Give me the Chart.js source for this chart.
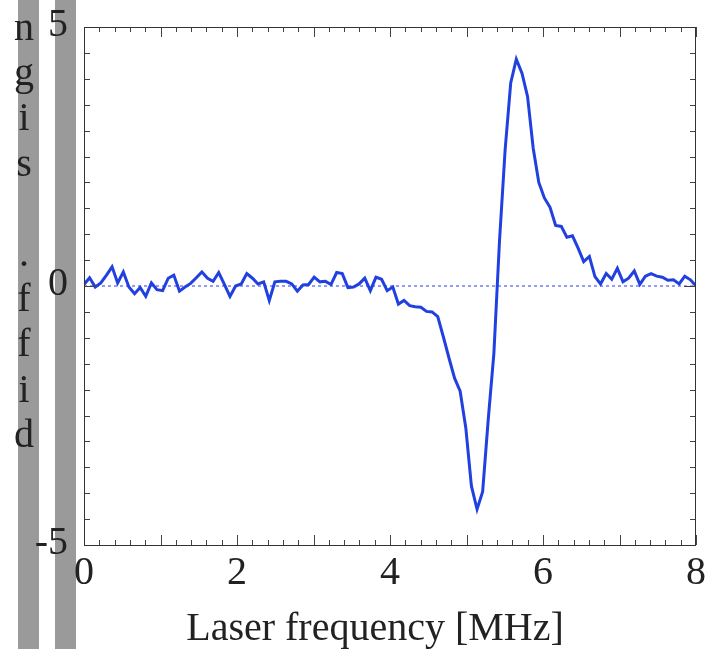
<!DOCTYPE html>
<html>
<head>
<meta charset="utf-8">
<title>diff. sign vs laser frequency</title>
<script src="https://cdn.jsdelivr.net/npm/chart.js@4.4.1/dist/chart.umd.min.js"></script>
<style>
    html, body { margin: 0; padding: 0; background: #fff; }
    #wrap { position: relative; width: 706px; height: 649px; overflow: hidden; }
    .bar { position: absolute; top: 0; width: 21px; height: 649px; background: #9a9a9a; }
    #bar1 { left: 18px; }
    #bar2 { left: 55px; }
    #chart { position: absolute; left: 0; top: 0; }
    #ylabel {
        position: absolute; left: 4px; top: 4px; width: 40px;
        text-align: center; color: #222;
        font: 40px/45.2px "Liberation Serif", serif;
    }
</style>
</head>
<body>
<div id="wrap">
    <div class="bar" id="bar1"></div>
    <div class="bar" id="bar2"></div>
    <canvas id="chart" width="706" height="649"></canvas>
    <div id="ylabel">n<br>g<br>i<br>s<br>&nbsp;<br>.<br>f<br>f<br>i<br>d</div>
</div>
<script>
// sample frequencies [MHz]
const freqMHz = [
    0, 0.073, 0.147, 0.220, 0.294, 0.367, 0.440, 0.514, 0.587, 0.661,
    0.734, 0.807, 0.881, 0.954, 1.028, 1.101, 1.174, 1.248, 1.321, 1.394,
    1.468, 1.541, 1.615, 1.688, 1.761, 1.835, 1.908, 1.982, 2.055, 2.128,
    2.202, 2.275, 2.349, 2.422, 2.495, 2.569, 2.642, 2.716, 2.789, 2.862,
    2.936, 3.009, 3.083, 3.156, 3.229, 3.303, 3.376, 3.450, 3.523, 3.596,
    3.670, 3.743, 3.817, 3.890, 3.963, 4.037, 4.110, 4.183, 4.257, 4.330,
    4.404, 4.477, 4.550, 4.624, 4.697, 4.771, 4.844, 4.917, 4.991, 5.064,
    5.138, 5.211, 5.284, 5.358, 5.431, 5.505, 5.578, 5.651, 5.725, 5.798,
    5.872, 5.945, 6.018, 6.092, 6.165, 6.239, 6.312, 6.385, 6.459, 6.532,
    6.606, 6.679, 6.752, 6.826, 6.899, 6.972, 7.046, 7.119, 7.193, 7.266,
    7.339, 7.413, 7.486, 7.560, 7.633, 7.706, 7.780, 7.853, 7.927, 8.000
];

// difference signal
const diffSignal = [
    0.03, 0.16, -0.02, 0.06, 0.21, 0.37, 0.06, 0.27, -0.02, -0.15,
    -0.03, -0.20, 0.06, -0.07, -0.09, 0.15, 0.21, -0.10, -0.02, 0.05,
    0.16, 0.27, 0.15, 0.09, 0.26, 0.03, -0.20, 0.00, 0.04, 0.24,
    0.15, 0.04, 0.08, -0.28, 0.08, 0.09, 0.09, 0.04, -0.10, 0.02,
    0.03, 0.17, 0.08, 0.09, 0.03, 0.26, 0.24, -0.03, -0.02, 0.04,
    0.15, -0.09, 0.17, 0.13, -0.09, -0.02, -0.35, -0.28, -0.38, -0.40,
    -0.41, -0.49, -0.50, -0.59, -0.98, -1.39, -1.78, -2.03, -2.74, -3.86,
    -4.31, -3.97, -2.58, -1.30, 0.86, 2.63, 3.92, 4.38, 4.11, 3.66,
    2.66, 2.00, 1.70, 1.52, 1.17, 1.15, 0.94, 0.97, 0.73, 0.47,
    0.57, 0.18, 0.04, 0.24, 0.13, 0.34, 0.08, 0.15, 0.29, 0.03,
    0.19, 0.24, 0.19, 0.17, 0.11, 0.12, 0.04, 0.19, 0.12, 0.00
];

const zeroLine = [0, 0];
const zeroLineX = [0, 8];

const xRange = [0, 8];
const yRange = [-5, 5];
const xTickLabels = [0, 2, 4, 6, 8];
const yTickLabels = [-5, 0, 5];
const xTitle = 'Laser frequency [MHz]';

const serif = '"Liberation Serif", "Times New Roman", serif';

// frame + inward tick marks on all four sides, plus the x title
const frameTicks = {
    id: 'frameTicks',
    afterDraw(chart) {
        const { ctx, chartArea: a, scales: { x, y } } = chart;
        ctx.save();
        ctx.lineWidth = 1;
        ctx.strokeStyle = '#444';
        ctx.beginPath();
        for (let k = -10; k <= 10; k++) {
            const py = Math.round(y.getPixelForValue(k / 2)) + 0.5;
            const len = k === 0 ? 12 : 6;
            ctx.moveTo(a.left, py); ctx.lineTo(a.left + len, py);
            ctx.moveTo(a.right, py); ctx.lineTo(a.right - len, py);
        }
        for (let k = 0; k <= 40; k++) {
            const px = Math.round(x.getPixelForValue(k / 5)) + 0.5;
            const len = k % 5 === 0 ? 10 : 5;
            ctx.moveTo(px, a.bottom); ctx.lineTo(px, a.bottom - len);
            ctx.moveTo(px, a.top); ctx.lineTo(px, a.top + len);
        }
        ctx.stroke();

        ctx.strokeStyle = '#333';
        ctx.strokeRect(a.left + 0.5, a.top + 0.5, a.right - a.left - 1, a.bottom - a.top);

        ctx.fillStyle = '#222';
        ctx.font = '40px ' + serif;
        ctx.textAlign = 'center';
        ctx.textBaseline = 'alphabetic';
        ctx.fillText(xTitle, 375, 640);
        ctx.restore();
    }
};

new Chart(document.getElementById('chart'), {
    type: 'line',
    data: {
        datasets: [
            {
                data: freqMHz.map((f, i) => ({ x: f, y: diffSignal[i] })),
                borderColor: '#2140e0',
                borderWidth: 3,
                pointRadius: 0,
                tension: 0,
                order: 1
            },
            {
                data: zeroLineX.map((f, i) => ({ x: f, y: zeroLine[i] })),
                borderColor: '#2a3af0',
                borderWidth: 1,
                borderDash: [3, 3],
                pointRadius: 0,
                order: 2
            }
        ]
    },
    options: {
        responsive: false,
        animation: false,
        devicePixelRatio: 1,
        layout: { padding: { top: 27, right: 10, left: 0, bottom: 0 } },
        plugins: {
            legend: { display: false },
            tooltip: { enabled: false }
        },
        scales: {
            x: {
                type: 'linear',
                min: xRange[0],
                max: xRange[1],
                grid: { display: false, drawTicks: false },
                border: { display: false },
                afterFit: (s) => {
                    s.height = 104;
                    s.paddingLeft = 0;
                    s.paddingRight = 0;
                },
                afterBuildTicks: (s) => { s.ticks = xTickLabels.map(v => ({ value: v })); },
                ticks: {
                    color: '#222',
                    padding: 4,
                    maxRotation: 0,
                    font: { family: serif, size: 40 },
                    callback: (v) => String(v)
                }
            },
            y: {
                type: 'linear',
                min: yRange[0],
                max: yRange[1],
                grid: { display: false, drawTicks: false },
                border: { display: false },
                afterFit: (s) => {
                    s.width = 84;
                    s.paddingTop = 0;
                    s.paddingBottom = 0;
                },
                afterBuildTicks: (s) => { s.ticks = yTickLabels.map(v => ({ value: v })); },
                ticks: {
                    color: '#222',
                    padding: 16,
                    labelOffset: -2,
                    font: { family: serif, size: 40 },
                    callback: (v) => String(v)
                }
            }
        }
    },
    plugins: [frameTicks]
});
</script>
</body>
</html>
